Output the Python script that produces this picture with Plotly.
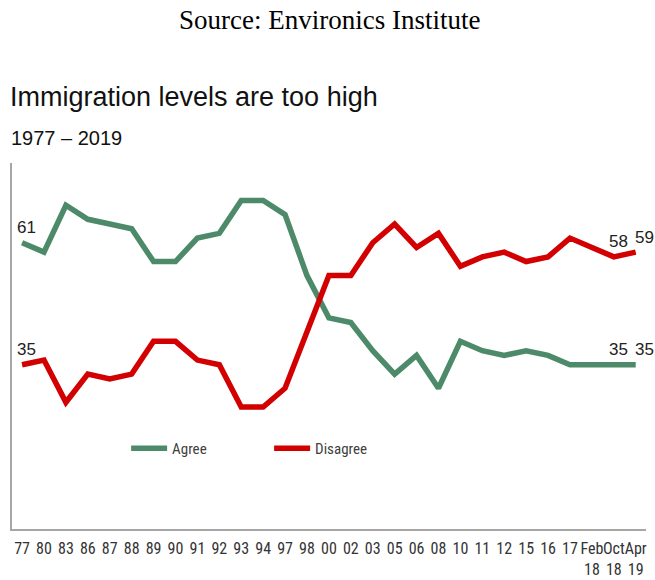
import plotly.graph_objects as go

# Survey waves (x categories)
waves = ["77", "80", "83", "86", "87", "88", "89", "90", "91", "92", "93", "94",
         "97", "98", "00", "02", "03", "05", "06", "08", "10", "11", "12", "15",
         "16", "17", "Feb<br>18", "Oct<br>18", "Apr<br>19"]

# Percent who agree / disagree that immigration levels are too high
agree = [61, 59, 69, 66, 65, 64, 57, 57, 62, 63, 70, 70,
         67, 54, 45, 44, 38, 33, 37, 30, 40, 38, 37, 38,
         37, 35, 35, 35, 35]
disagree = [35, 36, 27, 33, 32, 33, 40, 40, 36, 35, 26, 26,
            30, 42, 54, 54, 61, 65, 60, 63, 56, 58, 59, 57,
            58, 62, 60, 58, 59]

GREEN = "#4d8a69"
RED = "#d20000"
NARROW = "Liberation Sans Narrow, Roboto Condensed, DejaVu Sans Condensed, Arial Narrow, sans-serif"
SANS = "Liberation Sans, Arial, Helvetica, sans-serif"

fig = go.Figure()
fig.add_trace(go.Scatter(x=waves, y=agree, mode="lines", name="Agree",
                         line=dict(color=GREEN, width=5.5)))
fig.add_trace(go.Scatter(x=waves, y=disagree, mode="lines", name="Disagree",
                         line=dict(color=RED, width=5.5)))

# value labels at start and end of the series (x given as category index)
for i in [0, 27, 28]:
    for series in (agree, disagree):
        fig.add_annotation(x=i, y=series[i], text=str(series[i]), showarrow=False,
                           xref="x", yref="y", yshift=15,
                           xshift=(9 if i == 28 else (4 if i == 0 else 5)),
                           font=dict(family=SANS, size=17, color="#222222"))

fig.add_annotation(text="Source: Environics Institute", x=0.501, y=1.39,
                   xref="paper", yref="paper", showarrow=False, xanchor="center", yanchor="middle",
                   font=dict(family="Liberation Serif, Times New Roman, serif", size=27, color="#000000"))
fig.add_annotation(text="Immigration levels are too high", x=-0.007, y=1.18,
                   xref="paper", yref="paper", showarrow=False, xanchor="left", yanchor="middle",
                   font=dict(family=SANS, size=27, color="#111111"))
fig.add_annotation(text="1977 \u2013 2019", x=-0.005, y=1.068,
                   xref="paper", yref="paper", showarrow=False, xanchor="left", yanchor="middle",
                   font=dict(family=SANS, size=20, color="#111111"))

fig.update_layout(
    width=655, height=580,
    margin=dict(l=12, r=9, t=163, b=51, autoexpand=False),
    paper_bgcolor="white", plot_bgcolor="white",
    showlegend=True,
    legend=dict(orientation="h", x=0.18, y=0.22, xanchor="left", yanchor="middle",
                font=dict(family=NARROW, size=15, color="#404040"),
                itemwidth=36, entrywidth=92, bgcolor="rgba(0,0,0,0)"),
    xaxis=dict(type="category", range=[-0.46, 28.47], showgrid=False, zeroline=False,
               showline=True, linecolor="#a6a6a6", linewidth=1.5, ticks="",
               tickangle=0, automargin=False, ticklabelstandoff=4,
               tickfont=dict(family=NARROW, size=16, color="#333333")),
    yaxis=dict(range=[0, 78], showgrid=False, zeroline=False, showticklabels=False,
               showline=True, linecolor="#a6a6a6", linewidth=1.5, ticks="", automargin=False),
)

# drop the default 8px body margin so the figure fills the window exactly
fig.write_html("out.html", config={"displayModeBar": False},
               post_script="document.body.style.margin = '0';")
